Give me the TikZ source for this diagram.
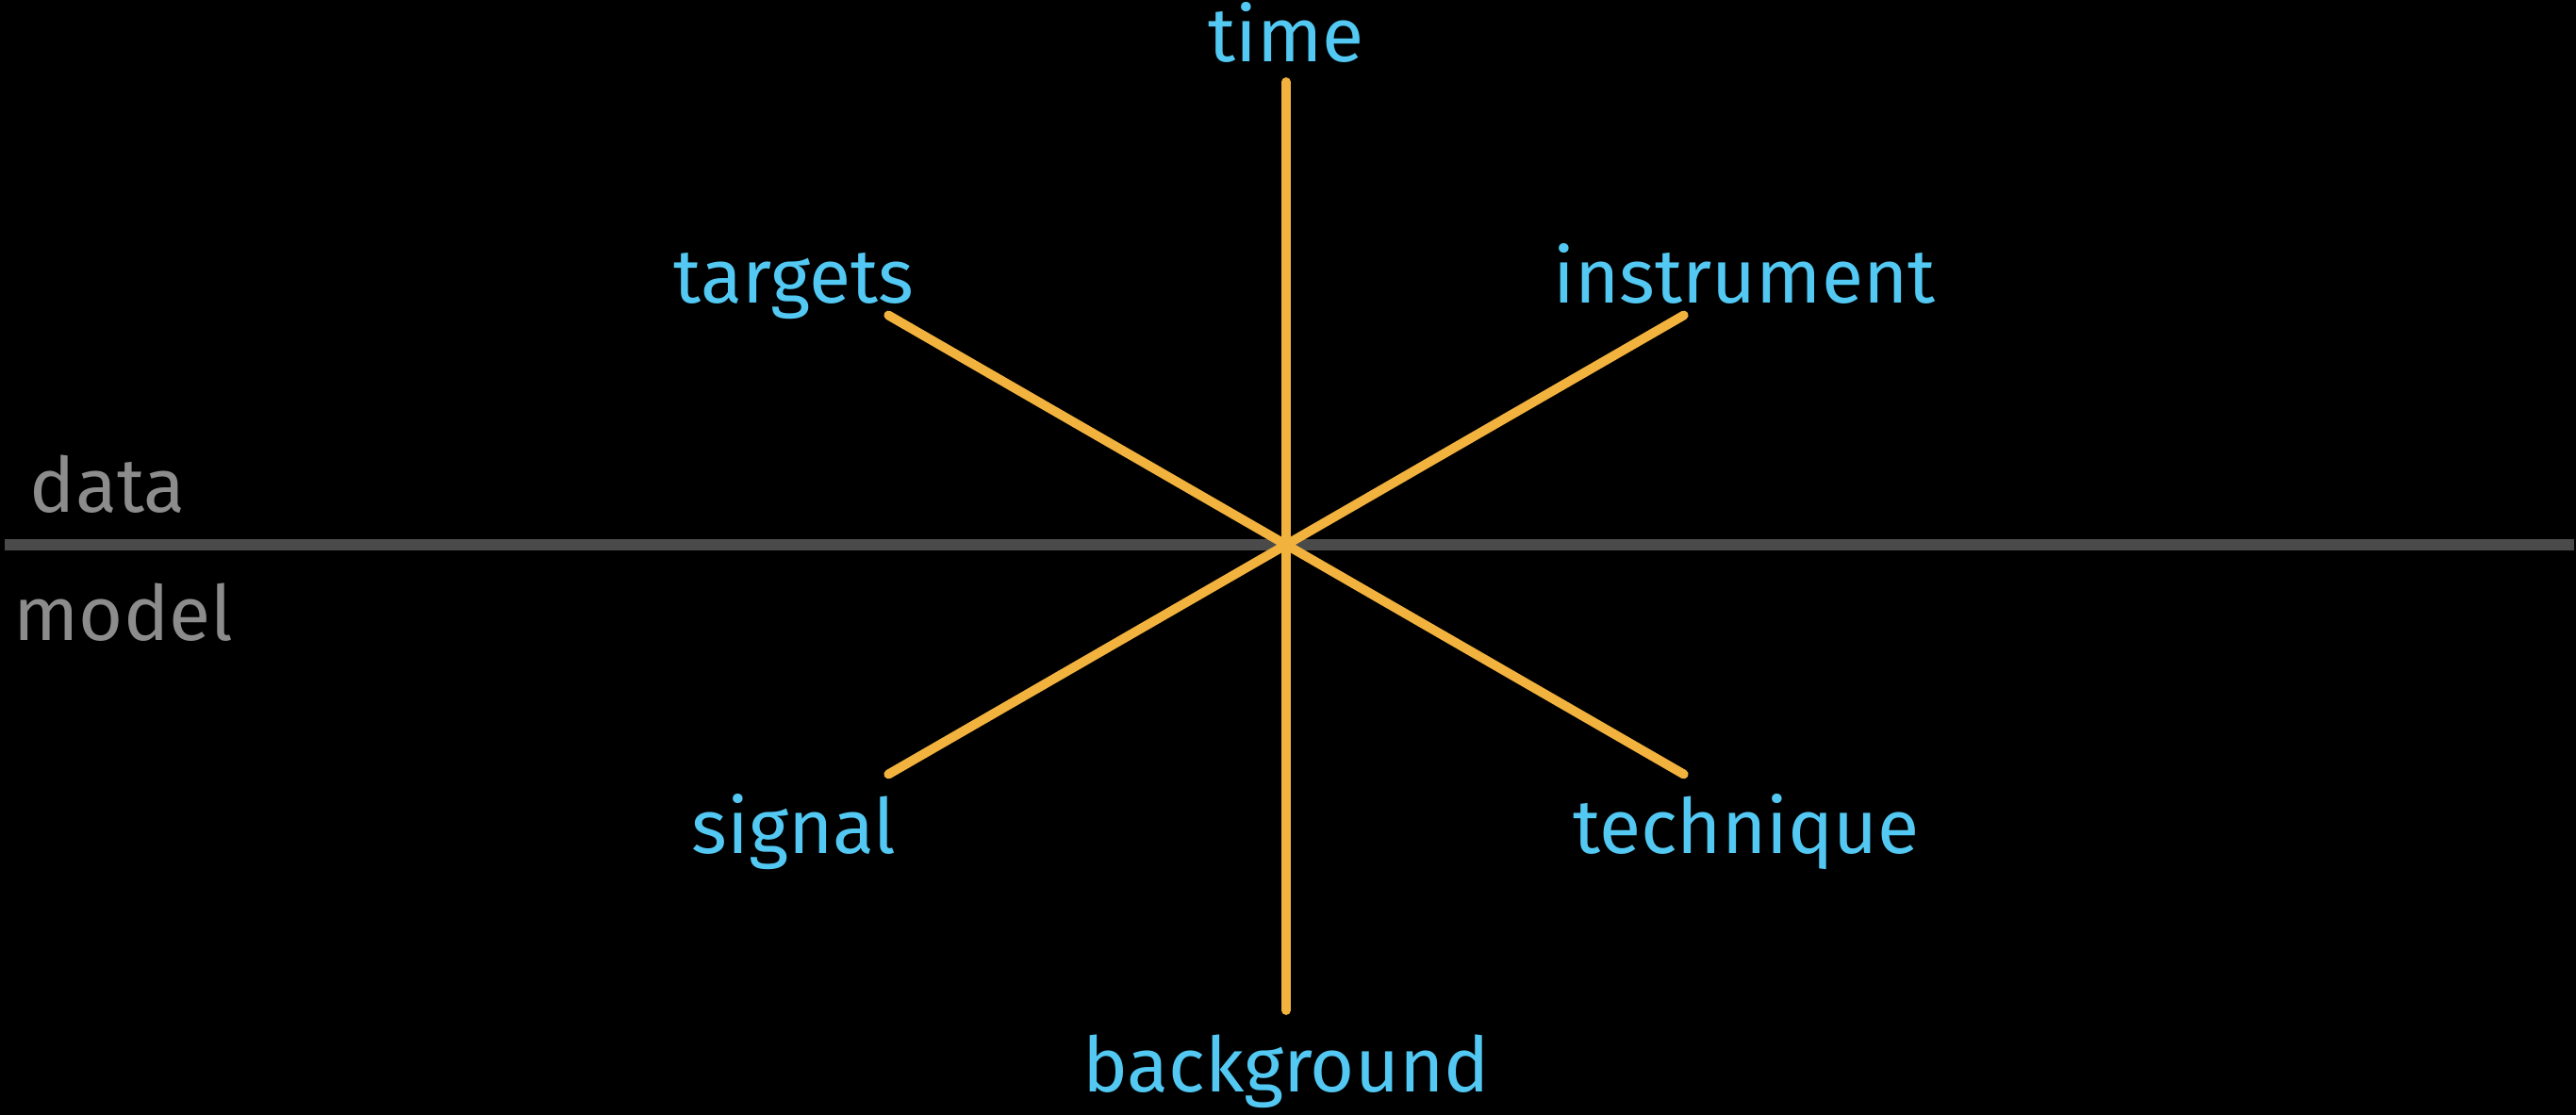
\documentclass[tikz,border=0pt]{standalone}
\usepackage{fontspec}
\setmainfont{Fira Sans}
\usetikzlibrary{positioning,calc}
\definecolor{chalkblue}{HTML}{52C8F2}
\definecolor{chalkorange}{HTML}{F2B23E}
\definecolor{chalkgray}{HTML}{4A4A4A}
\definecolor{chalktext}{HTML}{8C8C8C}
\tikzset{
  axislabel/.style={text=chalkblue, anchor=base, inner sep=0pt,
                    font=\fontsize{23}{27}\selectfont},
  sidelabel/.style={text=chalktext, anchor=base west, inner sep=0pt,
                    font=\fontsize{23}{27}\selectfont},
  spoke/.style={line width=2.8pt, color=chalkorange, line cap=round},
  divider/.style={line width=3.4pt, color=chalkgray},
}

\begin{document}
\begin{tikzpicture}
\fill[black] (0,0) rectangle (27.32,11.83);
\useasboundingbox (0,0) rectangle (27.32,11.83);

% data / model split
\coordinate (hub) at (13.64,6.05);
\coordinate (west) at (0.05,6.05);
\coordinate (east) at (27.30,6.05);
\draw[divider] (west) -- (east);
\node[sidelabel] (data) at (0.31,6.39) {data};
\node[sidelabel] (model) at (0.14,5.03) {model};

% spoke ends
\coordinate (timeend) at (13.64,10.96);
\coordinate (bgend) at (13.64,1.11);
\coordinate (targend) at ($(hub)+(150:4.87)$);
\coordinate (instend) at ($(hub)+(30:4.87)$);
\coordinate (sigend) at ($(hub)+(210:4.87)$);
\coordinate (techend) at ($(hub)+(-30:4.87)$);

\draw[spoke] (hub) -- (timeend);
\draw[spoke] (hub) -- (bgend);
\draw[spoke] (hub) -- (targend);
\draw[spoke] (hub) -- (instend);
\draw[spoke] (hub) -- (sigend);
\draw[spoke] (hub) -- (techend);

% labels
\node[axislabel] (time) at (13.64,11.17) {time};
\node[axislabel] (targets) at (8.42,8.61) {targets};
\node[axislabel] (instrument) at (18.50,8.61) {instrument};
\node[axislabel] (signal) at (8.42,2.77) {signal};
\node[axislabel] (technique) at (18.52,2.77) {technique};
\node[axislabel] (background) at (13.64,0.24) {background};
\end{tikzpicture}
\end{document}
